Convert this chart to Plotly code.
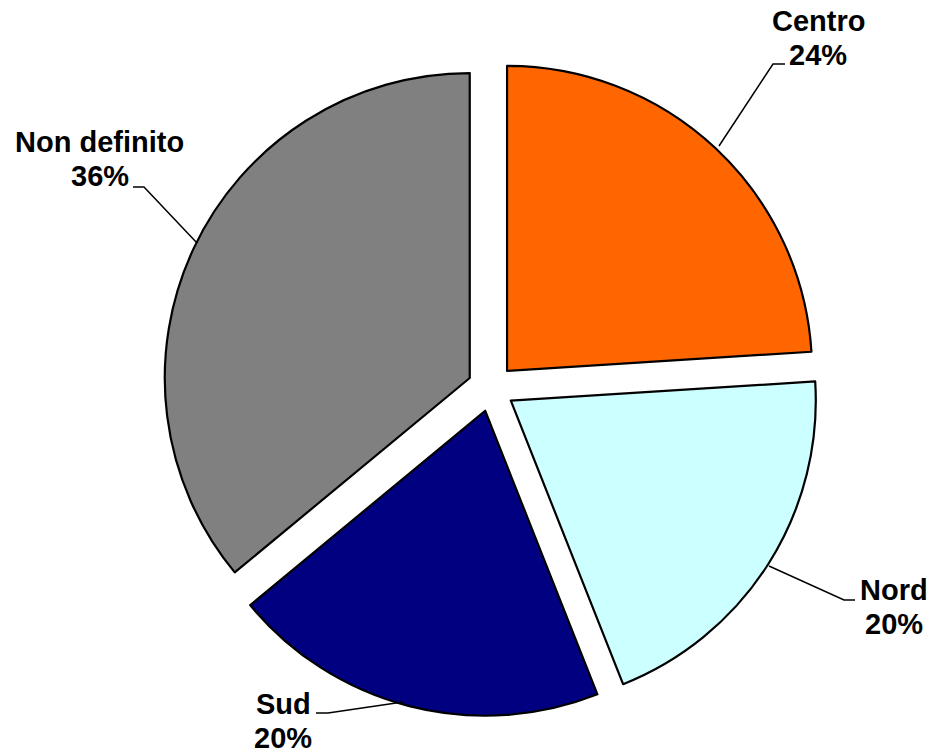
import plotly.graph_objects as go

# ---- data ----
categories = ["Centro", "Nord", "Sud", "Non definito"]
values = [24, 20, 20, 36]
colors = ["#FF6600", "#CCFFFF", "#000080", "#808080"]

# ---- layout config (pixel positions in the 933x754 canvas) ----
W, H = 933, 754
# label text centre (first line) and leader line polyline (label end -> elbow -> slice edge)
label_pos = {
    "Centro": (818, 21),
    "Nord": (894, 590),
    "Sud": (283, 704),
    "Non definito": (99.5, 142),
}
leaders = {
    "Centro": [(785, 64), (773, 64), (719, 146)],
    "Nord": [(855, 600), (844, 600), (769, 566)],
    "Sud": [(316, 713), (328, 713), (403, 702)],
    "Non definito": [(133, 187), (144, 187), (197, 243)],
}
LINE_GAP = 34
FONT = "Liberation Sans, Arial, sans-serif"
FSIZE = 29


def px(x, y):
    return x / W, 1 - y / H


fig = go.Figure(
    go.Pie(
        labels=categories,
        values=values,
        sort=False,
        direction="clockwise",
        rotation=0,
        pull=[0.077] * len(values),
        marker=dict(colors=colors, line=dict(color="black", width=2.2)),
        textinfo="none",
        hoverinfo="label+percent",
        showlegend=False,
        domain=dict(x=[0.1742, 0.8783], y=[0.0497, 0.9211]),
    )
)

total = sum(values)
annotations = []
shapes = []
for cat, v in zip(categories, values):
    lx, ly = label_pos[cat]
    pct = f"{round(v / total * 100)}%"
    for i, txt in enumerate([cat, pct]):
        ax, ay = px(lx, ly + i * LINE_GAP)
        annotations.append(
            dict(
                x=ax, y=ay, xref="paper", yref="paper",
                text=f"<b>{txt}</b>", showarrow=False,
                xanchor="center", yanchor="middle",
                font=dict(family=FONT, size=FSIZE, color="black"),
            )
        )
    pts = leaders[cat]
    path = "M " + " L ".join(f"{px(x, y)[0]:.5f},{px(x, y)[1]:.5f}" for x, y in pts)
    shapes.append(dict(type="path", path=path, xref="paper", yref="paper",
                       line=dict(color="black", width=1.5)))

fig.update_layout(
    width=W, height=H,
    margin=dict(l=0, r=0, t=0, b=0),
    paper_bgcolor="white", plot_bgcolor="white",
    annotations=annotations, shapes=shapes,
)

fig.write_html(
    "out.html",
    config={"displayModeBar": False},
    post_script="document.body.style.margin='0';document.body.style.overflow='hidden';",
)
